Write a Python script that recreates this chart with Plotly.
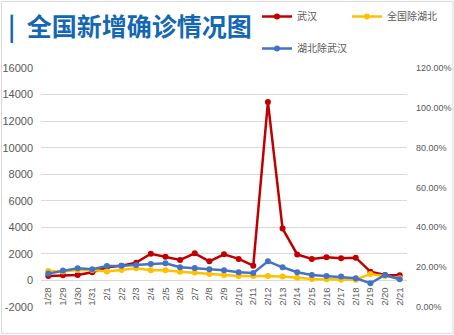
import plotly.graph_objects as go

dates = ["1/28", "1/29", "1/30", "1/31", "2/1", "2/2", "2/3", "2/4", "2/5", "2/6",
         "2/7", "2/8", "2/9", "2/10", "2/11", "2/12", "2/13", "2/14", "2/15", "2/16",
         "2/17", "2/18", "2/19", "2/20", "2/21"]
wuhan = [340, 400, 410, 615, 990, 1110, 1340, 2010, 1790, 1540,
         2045, 1440, 1970, 1620, 1115, 13436, 3910, 1960, 1615, 1745,
         1670, 1715, 660, 415, 390]
non_hubei = [720, 680, 780, 780, 680, 790, 915, 760, 765, 660,
             590, 490, 415, 340, 340, 340, 300, 210, 115, 90,
             60, 60, 490, 340, 165]
hubei_ex_wuhan = [515, 740, 915, 840, 1090, 1115, 1165, 1240, 1290, 990,
                  940, 840, 765, 615, 565, 1440, 990, 615, 415, 340,
                  290, 165, -210, 415, 90]

left_ticks = list(range(-2000, 16001, 2000))
right_ticks = [0, 0.2, 0.4, 0.6, 0.8, 1.0, 1.2]

W, H = 454, 335
ml, mr, mt, mb = 41, 47, 67.7, 27.9
plot_h = H - mt - mb
plot_w = W - ml - mr

fig = go.Figure()
series = [("武汉", wuhan, "#C00000", "legend"),
          ("全国除湖北", non_hubei, "#FFC000", "legend3"),
          ("湖北除武汉", hubei_ex_wuhan, "#4472C4", "legend2")]
for name, vals, col, lg in series:
    fig.add_trace(go.Scatter(
        x=dates, y=vals, name=name, mode="lines+markers",
        line=dict(color=col, width=2.5),
        marker=dict(color=col, size=6),
        legend=lg,
    ))
# empty trace so the secondary (percentage) axis is drawn
fig.add_trace(go.Scatter(x=[], y=[], yaxis="y2", showlegend=False, hoverinfo="skip"))

leg_font = dict(family="Noto Sans CJK SC", size=10, color="#595959")
def leg(xpx, ypx):
    return dict(orientation="h", xref="container", yref="container",
                x=xpx / W, xanchor="left", y=1 - ypx / H, yanchor="top",
                font=leg_font, bgcolor="rgba(0,0,0,0)")

fig.update_layout(
    width=W, height=H,
    margin=dict(l=ml, r=mr, t=mt, b=mb, pad=0, autoexpand=False),
    paper_bgcolor="white", plot_bgcolor="white",
    title=dict(text="<b>|  全国新增确诊情况图</b>", x=8 / W, xanchor="left",
               y=1 - 27.5 / H, yanchor="middle", xref="container", yref="container",
               font=dict(family="Noto Sans CJK SC", size=25, color="#1367B3")),
    xaxis=dict(type="category", range=[-0.5, len(dates) - 0.5],
               anchor="free", position=2000 / 18000, automargin=False,
               showgrid=False, showline=False, zeroline=False,
               tickangle=-90, ticks="", ticklabelstandoff=4,
               tickfont=dict(family="Liberation Sans, Arial, sans-serif", size=9.5, color="#595959")),
    yaxis=dict(range=[-2000, 16000], tickvals=left_ticks, ticktext=[str(v) for v in left_ticks],
               showgrid=True, gridcolor="#D9D9D9", gridwidth=1, zeroline=False, automargin=False,
               showline=False, ticks="", ticklabelstandoff=7,
               tickfont=dict(family="Liberation Sans, Arial, sans-serif", size=11, color="#595959")),
    yaxis2=dict(range=[0, 1.2], tickvals=right_ticks, tickformat=".2%", automargin=False,
                overlaying="y", side="right", showgrid=False, zeroline=False,
                showline=False, ticks="", ticklabelstandoff=8,
                tickfont=dict(family="Liberation Sans, Arial, sans-serif", size=9, color="#595959")),
    legend=leg(257, 2),
    legend3=leg(347, 2),
    legend2=leg(257, 34),
    showlegend=True,
)

# chart-area border
fig.add_shape(type="rect", xref="paper", yref="paper",
              x0=(1.5 - ml) / plot_w, x1=(W - 1 - ml) / plot_w,
              y0=-(mb - 1.5) / plot_h, y1=(H - mb - 1) / plot_h,
              line=dict(color="#D9D9D9", width=1), layer="below")

fig.write_html("out.html")
